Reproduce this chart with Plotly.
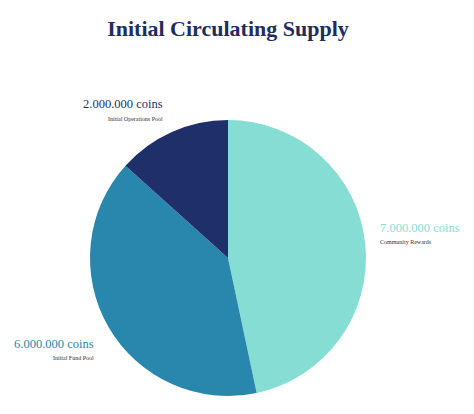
import plotly.graph_objects as go

names = ["Community Rewards", "Initial Fund Pool", "Initial Operations Pool"]
coins = [7000000, 6000000, 2000000]
colors = ["#86ddd4", "#2987ad", "#1f2f6a"]

W, H = 474, 414
OFF = 8  # page body margin

fig = go.Figure(go.Pie(
    labels=names,
    values=coins,
    marker=dict(colors=colors),
    sort=False,
    direction="clockwise",
    rotation=0,
    textinfo="none",
    hoverinfo="label+value",
    domain=dict(x=[(90 - OFF) / W, (366 - OFF) / W],
                y=[1 - (396 - OFF) / H, 1 - (120 - OFF) / H]),
))

# label positions (pixels): (x, y_value, y_name, anchor)
label_pos = [(378, 228, 242, "left"), (96, 344, 358, "right"), (165, 104, 119, "right")]

def fmt(v):
    return f"{v:,}".replace(",", ".") + " coins"

for name, v, c, (x, yv, yn, anc) in zip(names, coins, colors, label_pos):
    fig.add_annotation(x=(x - OFF) / W, y=1 - (yv - OFF) / H, xref="paper", yref="paper",
                       text=fmt(v), showarrow=False, xanchor=anc, yanchor="middle",
                       font=dict(family="Liberation Serif", size=12.5, color=c))
    fig.add_annotation(x=(x - OFF) / W, y=1 - (yn - OFF) / H, xref="paper", yref="paper",
                       text=name, showarrow=False, xanchor=anc, yanchor="middle",
                       font=dict(family="Liberation Serif", size=6, color="#333333"))

fig.update_layout(
    width=W, height=H,
    margin=dict(l=0, r=0, t=0, b=0),
    showlegend=False,
    paper_bgcolor="white",
    title=dict(text="<b>Initial Circulating Supply</b>", x=(228 - OFF) / W, xanchor="center",
               y=1 - (28 - OFF) / H, yanchor="middle",
               font=dict(family="Liberation Serif", size=22, color="#1f2d5e")),
)

fig.write_html("out.html")
